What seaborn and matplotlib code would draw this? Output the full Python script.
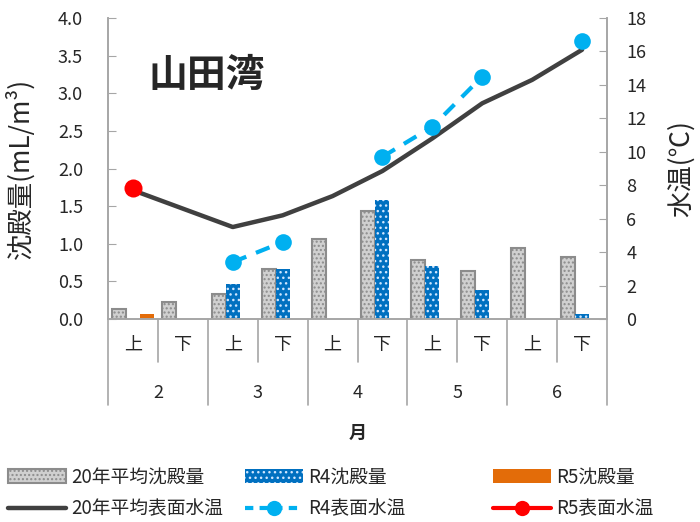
"""山田湾 沈殿量・表面水温 chart"""

import matplotlib
matplotlib.use("Agg")
import matplotlib.pyplot as plt
import matplotlib.transforms as mtransforms
from matplotlib.lines import Line2D
from matplotlib.patches import Patch
import numpy as np
import pandas as pd
import seaborn as sns

# --- data ---
halves = ["上", "下"] * 5
months = ["2", "3", "4", "5", "6"]
slots = [f"{m}{h}" for m in months for h in ["上", "下"]]

avg_vol = [0.13, 0.22, 0.33, 0.67, 1.06, 1.44, 0.79, 0.64, 0.94, 0.83]
r4_vol = [np.nan, np.nan, 0.46, 0.66, np.nan, 1.58, 0.71, 0.39, np.nan, 0.07]
r5_vol = [0.07, np.nan, np.nan, np.nan, np.nan, np.nan, np.nan, np.nan, np.nan, np.nan]

avg_temp = [7.7, 6.6, 5.5, 6.2, 7.35, 8.85, 10.8, 12.9, 14.3, 16.1]
r4_temp = [np.nan, np.nan, 3.4, 4.6, np.nan, 9.7, 11.5, 14.5, np.nan, 16.6]
r5_temp = [7.83, np.nan, np.nan, np.nan, np.nan, np.nan, np.nan, np.nan, np.nan, np.nan]

bar_names = ["20年平均沈殿量", "R4沈殿量", "R5沈殿量"]
line_names = ["20年平均表面水温", "R4表面水温", "R5表面水温"]

C_AVG_BAR = "#D0D0D0"
C_AVG_EDGE = "#8C8C8C"
C_R4_BAR = "#0070C0"
C_R5_BAR = "#E36C09"
C_AVG_LINE = "#404040"
C_R4_LINE = "#00B0F0"
C_R5_LINE = "#FF0000"
C_GRID = "#A6A6A6"

sns.set_style("white")
plt.rcParams["font.family"] = ["Noto Sans CJK JP", "DejaVu Sans"]
plt.rcParams["hatch.linewidth"] = 1.0

# long-form table for the bars
rows = []
for name, vals in zip(bar_names, [avg_vol, r4_vol, r5_vol]):
    for s, v in zip(slots, vals):
        if not np.isnan(v):
            rows.append({"slot": s, "vol": v, "series": name})
bars = pd.DataFrame(rows)

fig = plt.figure(figsize=(7, 5.22), dpi=100)
ax = fig.add_axes([108 / 700, 1 - 319 / 522, 499 / 700, 301 / 522])

sns.barplot(
    data=bars, x="slot", y="vol", hue="series", order=slots,
    hue_order=bar_names, width=0.84, saturation=1, legend=False,
    palette=[C_AVG_BAR, C_R4_BAR, C_R5_BAR], ax=ax,
)

# patterns
for patch in ax.containers[0]:
    patch.set_facecolor(C_AVG_BAR)
    patch.set_edgecolor(C_AVG_EDGE)
    patch.set_hatch("....")
    patch.set_linewidth(1.5)
for patch in ax.containers[1]:
    patch.set_facecolor(C_R4_BAR)
    patch.set_edgecolor("#CFE6FF")
    patch.set_hatch("...")
    patch.set_linewidth(0)
for patch in ax.containers[2]:
    patch.set_facecolor(C_R5_BAR)
    patch.set_linewidth(0)

ax.set_ylim(0, 4.0)
ax.set_yticks(np.arange(0, 4.01, 0.5))
ax.set_yticklabels([f"{v:.1f}" for v in np.arange(0, 4.01, 0.5)], fontsize=13)
ax.set_xlim(-0.5, 9.5)
ax.set_xticks([])
ax.set_xlabel("")
ax.set_ylabel("沈殿量(mL/m³)", fontsize=19)
ax.yaxis.set_label_coords(-0.176, 0.5)
ax.yaxis.label.set_va("center")

# temperature axis
ax2 = ax.twinx()
x_idx = np.arange(len(slots))
temp = pd.DataFrame({"x": x_idx, "avg": avg_temp, "r4": r4_temp, "r5": r5_temp})
# R4 has a gap at 4上, split into segments
temp["seg"] = np.cumsum(temp["r4"].isna())

sns.lineplot(data=temp, x="x", y="avg", color=C_AVG_LINE, lw=3.2, ax=ax2)
sns.lineplot(
    data=temp.dropna(subset=["r4"]), x="x", y="r4", units="seg", estimator=None,
    color=C_R4_LINE, lw=3, linestyle=(0, (3.5, 2.5)), marker="o",
    markersize=12, markeredgewidth=0, ax=ax2,
)
sns.lineplot(
    data=temp.dropna(subset=["r5"]), x="x", y="r5", color=C_R5_LINE, lw=3,
    marker="o", markersize=13, markeredgewidth=0, ax=ax2,
)
ax2.set_ylim(0, 18)
ax2.set_yticks(range(0, 19, 2))
ax2.set_yticklabels([str(v) for v in range(0, 19, 2)], fontsize=13)
ax2.set_xlim(-0.5, 9.5)
ax2.set_xlabel("")
ax2.set_ylabel("水温(℃)", fontsize=19)
ax2.yaxis.set_label_coords(1.148, 0.5)
ax2.yaxis.label.set_va("center")

for a in (ax, ax2):
    for side in ("left", "right", "bottom"):
        a.spines[side].set_color(C_GRID)
        a.spines[side].set_linewidth(1.2)
    a.spines["top"].set_visible(False)
ax.tick_params(axis="y", direction="in", length=6, color=C_GRID, pad=18)
ax2.tick_params(axis="y", direction="in", length=6, color=C_GRID, pad=14)

# two-level category axis
trans = mtransforms.blended_transform_factory(ax.transData, ax.transAxes)
for b in np.arange(-0.5, 10, 1.0):
    bottom = -0.286 if int(b + 0.5) % 2 == 0 else -0.143
    ax.plot([b, b], [0, bottom], transform=trans, color=C_GRID, lw=1.2,
            clip_on=False)
for i, h in enumerate(halves):
    ax.text(i, -0.086, h, transform=trans, ha="center", va="center", fontsize=13)
for j, m in enumerate(months):
    ax.text(2 * j + 0.5, -0.246, m, transform=trans, ha="center", va="center",
            fontsize=13)
ax.text(4.5, -0.379, "月", transform=trans, ha="center", va="center",
        fontsize=13, fontweight="bold")

ax.text(0.198, 0.81, "山田湾", transform=ax.transAxes, ha="center",
        va="center", fontsize=28, fontweight="bold")

# legend: three single-column blocks at fixed x positions
blocks = [
    (8, Patch(facecolor=C_AVG_BAR, edgecolor=C_AVG_EDGE, hatch="....", lw=1.5),
     Line2D([], [], color=C_AVG_LINE, lw=3.2)),
    (245, Patch(facecolor=C_R4_BAR, edgecolor="#CFE6FF", hatch="...", lw=0),
     Line2D([], [], color=C_R4_LINE, lw=3, linestyle=(0, (2, 1.5)), marker="o",
            markersize=11, markeredgewidth=0)),
    (493, Patch(facecolor=C_R5_BAR, lw=0),
     Line2D([], [], color=C_R5_LINE, lw=3, marker="o", markersize=11,
            markeredgewidth=0)),
]
for k, (x0, bar_h, line_h) in enumerate(blocks):
    fig.legend(
        [bar_h, line_h], [bar_names[k], line_names[k]], ncol=1,
        loc="center left", bbox_to_anchor=(x0 / 700, 1 - 493 / 522),
        frameon=False, fontsize=13.5, handlelength=3.1, handleheight=0.8,
        handletextpad=0.25, labelspacing=0.6, borderpad=0, borderaxespad=0,
    )

fig.savefig("out.png", dpi=100)
